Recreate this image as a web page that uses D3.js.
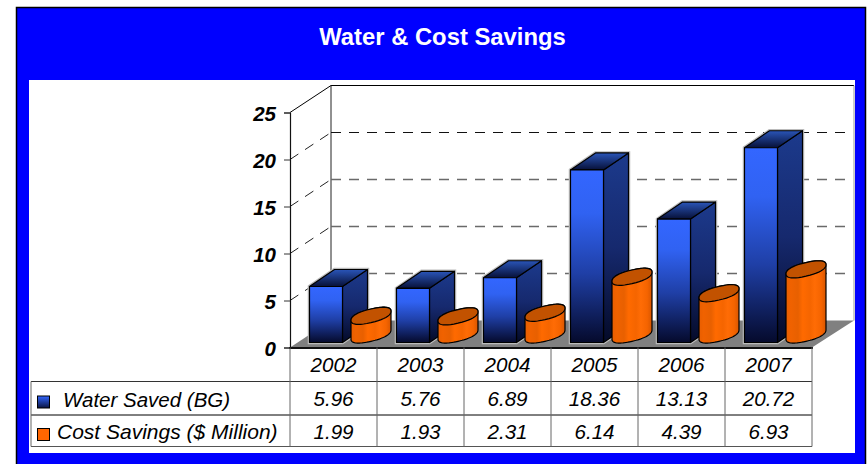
<!DOCTYPE html>
<html>
<head>
<meta charset="utf-8">
<style>
html, body { margin: 0; padding: 0; background: #fff; overflow: hidden; }
svg { display: block; }
text { font-family: "Liberation Sans", Arial, sans-serif; fill: #000; }
</style>
</head>
<body>
<div id="chart"></div>
<script src="https://cdn.jsdelivr.net/npm/d3@7"></script>
<script>
// values
var years = ["2002", "2003", "2004", "2005", "2006", "2007"];
var water_saved = [5.96, 5.76, 6.89, 18.36, 13.13, 20.72];
var cost_savings = [1.99, 1.93, 2.31, 6.14, 4.39, 6.93];
var y_ticks = [0, 5, 10, 15, 20, 25];
var water_label = "Water Saved (BG)";
var cost_label = "Cost Savings ($ Million)";
var title = "Water & Cost Savings";

var width = 867,
	height = 464,
	DEPTH_X = 41, // how far the back wall is pushed from the front axis
	DEPTH_Y = 27,
	BAR_INSET = 19.5,
	BAR_WIDTH = 33,
	BAR_DEPTH_X = 25,
	BAR_DEPTH_Y = 17,
	FLOOR_GAP = 5, // bars stand a little behind the front edge of the floor
	CYL_OFFSET = 81,
	CYL_RX = 20,
	CYL_TILT = 4.6,
	CYL_RY = 6.8,
	CYL_ROUND = 0.85; // below 1 squares the ellipse off a little, the ends look rounder

var x = d3.scaleBand().domain(years).range([290, 812]);
var y = d3.scaleLinear().domain([0, 25]).range([347.5, 112.5]);

var svg = d3.select("#chart").append("svg")
	.attr("width", width)
	.attr("height", height);

var defs = svg.append("defs");

var gradient = function(id, vertical, stops) {
	defs.append("linearGradient")
		.attr("id", id)
		.attr("x1", 0).attr("y1", 0)
		.attr("x2", vertical ? 0 : 1).attr("y2", vertical ? 1 : 0)
		.selectAll("stop")
		.data(stops)
		.enter()
		.append("stop")
		.attr("offset", function(d) { return d[0]; })
		.attr("stop-color", function(d) { return d[1]; });
};

gradient("bar_front", true, [[0, "#3366ff"], [0.25, "#3062f2"], [0.6, "#1f3fa6"], [1, "#050a2c"]]);
gradient("bar_side", true, [[0, "#1c3a8c"], [0.5, "#16296e"], [1, "#040a28"]]);
gradient("bar_top", true, [[0, "#2a55b8"], [1, "#071038"]]);
gradient("swatch_blue", true, [[0, "#3366ff"], [1, "#0a1440"]]);
gradient("cyl_side", false, [[0, "#e85e00"], [0.12, "#f06200"], [0.3, "#e86000"], [0.42, "#ff6a00"], [0.6, "#f56500"], [0.72, "#ff6c05"], [0.88, "#f56400"], [1, "#d85600"]]);

// frame
svg.append("rect")
	.attr("x", 16.5).attr("y", 7.5)
	.attr("width", 849).attr("height", 470)
	.style("fill", "#0000ff")
	.style("stroke", "#000")
	.style("stroke-width", 1.5);

svg.append("rect")
	.attr("x", 29).attr("y", 80)
	.attr("width", 826).attr("height", 373)
	.style("fill", "#fff");

svg.append("text")
	.attr("x", 442.5).attr("y", 45)
	.attr("text-anchor", "middle")
	.style("font-size", "23.8px")
	.style("font-weight", "bold")
	.style("fill", "#fff")
	.text(title);

var x0 = x.range()[0], x1 = x.range()[1];
var y0 = y(0), yTop = y(25);

// floor
svg.append("polygon")
	.attr("points", [[x0, y0], [x0 + DEPTH_X, y0 - DEPTH_Y], [x1 + DEPTH_X + 1, y0 - DEPTH_Y], [x1, y0]].join(" "))
	.style("fill", "#808080");

// walls
var walls = svg.append("g").style("fill", "none");

walls.append("path")
	.attr("d", d3.line()([[x0, yTop], [x0 + DEPTH_X, yTop - DEPTH_Y], [x1 + DEPTH_X + 1, yTop - DEPTH_Y]]))
	.style("stroke", "#000")
	.style("stroke-width", 1);

walls.append("line")
	.attr("x1", x0 + DEPTH_X).attr("x2", x0 + DEPTH_X)
	.attr("y1", yTop - DEPTH_Y).attr("y2", y0 - DEPTH_Y)
	.style("stroke", "#222");

walls.append("line")
	.attr("x1", x1 + DEPTH_X + 1).attr("x2", x1 + DEPTH_X + 1)
	.attr("y1", yTop - DEPTH_Y).attr("y2", y0 - DEPTH_Y)
	.style("stroke", "#999");

// dashed grid, along the side wall then along the back wall
var grid = svg.append("g").selectAll("g")
	.data(y_ticks.slice(1, 5))
	.enter()
	.append("g")
	.style("fill", "none")
	.style("stroke-dasharray", "10,8");

grid.append("line")
	.attr("x1", x0)
	.attr("y1", function(d) { return y(d); })
	.attr("x2", x0 + DEPTH_X)
	.attr("y2", function(d) { return y(d) - DEPTH_Y; })
	.style("stroke", "#222");

grid.append("line")
	.attr("x1", x0 + DEPTH_X)
	.attr("y1", function(d) { return y(d) - DEPTH_Y; })
	.attr("x2", 846)
	.attr("y2", function(d) { return y(d) - DEPTH_Y; })
	.style("stroke", function(d) { return d === 20 ? "#111" : "#6a6a6a"; })
	.style("stroke-width", function(d) { return d === 20 ? 1 : 1.5; });

// y axis
var axis = svg.append("g")
	.attr("transform", "translate(" + x0 + ",0)")
	.call(d3.axisLeft(y).tickValues(y_ticks).tickSize(6).tickPadding(8));

axis.select(".domain").style("stroke", "#111").attr("stroke-width", 1.2);
axis.selectAll(".tick line").style("stroke", "#333");
axis.selectAll(".tick text")
	.attr("dy", "0.37em")
	.style("font-family", '"Liberation Sans", Arial, sans-serif')
	.style("font-size", "20.5px")
	.style("font-weight", "bold")
	.style("font-style", "italic");

var soft_pow = function(v) {
	return (v < 0 ? -1 : 1) * Math.pow(Math.abs(v), CYL_ROUND);
};

// points along one tilted ellipse, between two angles
var ellipse_points = function(cx, cy, from, to) {
	var pts = [];
	for (var i = 0; i <= 40; i++) {
		var t = from + (to - from) * i / 40;
		var c = soft_pow(Math.cos(t)), s = soft_pow(Math.sin(t));
		pts.push([cx + CYL_RX * c, cy - CYL_TILT * c + CYL_RY * s]);
	}
	return pts;
};

var bars = svg.append("g").selectAll("g")
	.data(years)
	.enter()
	.append("g");

var bar_box = function(i) {
	var left = x(years[i]) + BAR_INSET;
	var bottom = y0 - FLOOR_GAP;
	var top = bottom - (y(0) - y(water_saved[i]));
	return { left: left, right: left + BAR_WIDTH, top: top, bottom: bottom };
};

// faint halo round each bar
bars.append("polygon")
	.attr("points", function(d, i) {
		var b = bar_box(i);
		return [[b.left, b.bottom], [b.left, b.top], [b.left + BAR_DEPTH_X, b.top - BAR_DEPTH_Y],
			[b.right + BAR_DEPTH_X, b.top - BAR_DEPTH_Y], [b.right + BAR_DEPTH_X, b.bottom - BAR_DEPTH_Y], [b.right, b.bottom]].join(" ");
	})
	.style("fill", "none")
	.style("stroke", "#bbb")
	.style("stroke-width", 3.5);

var bar_faces = [
	{ fill: "url(#bar_side)", pts: function(b) { return [[b.right, b.top], [b.right + BAR_DEPTH_X, b.top - BAR_DEPTH_Y], [b.right + BAR_DEPTH_X, b.bottom - BAR_DEPTH_Y], [b.right, b.bottom]]; } },
	{ fill: "url(#bar_top)", pts: function(b) { return [[b.left, b.top], [b.left + BAR_DEPTH_X, b.top - BAR_DEPTH_Y], [b.right + BAR_DEPTH_X, b.top - BAR_DEPTH_Y], [b.right, b.top]]; } },
	{ fill: "url(#bar_front)", pts: function(b) { return [[b.left, b.top], [b.right, b.top], [b.right, b.bottom], [b.left, b.bottom]]; } }
];

bar_faces.forEach(function(face) {
	bars.append("polygon")
		.attr("points", function(d, i) { return face.pts(bar_box(i)).join(" "); })
		.style("fill", face.fill)
		.style("stroke", "#000")
		.style("stroke-width", 1.2)
		.style("stroke-linejoin", "round");
});

// cylinders
var cyl_bottom = y0 - FLOOR_GAP - 8;

bars.append("path")
	.attr("d", function(d, i) {
		var cx = x(d) + CYL_OFFSET;
		var top = cyl_bottom - (y(0) - y(cost_savings[i]));
		// over the top ellipse's back edge, then under the bottom ellipse's front edge
		var pts = ellipse_points(cx, top, Math.PI, 2 * Math.PI)
			.concat(ellipse_points(cx, cyl_bottom, 0, Math.PI));
		return d3.line()(pts) + "Z";
	})
	.style("fill", "url(#cyl_side)")
	.style("stroke", "#000")
	.style("stroke-width", 1.2);

bars.append("path")
	.attr("d", function(d, i) {
		var cx = x(d) + CYL_OFFSET;
		var top = cyl_bottom - (y(0) - y(cost_savings[i]));
		return d3.line()(ellipse_points(cx, top, 0, 2 * Math.PI)) + "Z";
	})
	.style("fill", "#c25200")
	.style("stroke", "#000")
	.style("stroke-width", 1.2);

// floor front edge
svg.append("line")
	.attr("x1", x0 - 1).attr("x2", x1 + 1)
	.attr("y1", y0 + 0.5).attr("y2", y0 + 0.5)
	.style("stroke", "#111")
	.style("stroke-width", 2);

// data table
var TABLE_LEFT = 31,
	ROW_HEAD = 381.5,
	ROW_MID = 415,
	ROW_END = 446.5;

var table = svg.append("g");

var hline = function(y_pos, from, color) {
	table.append("line")
		.attr("x1", from).attr("x2", x1)
		.attr("y1", y_pos).attr("y2", y_pos)
		.style("stroke", color);
};

hline(ROW_HEAD, TABLE_LEFT, "#333");
hline(ROW_MID, TABLE_LEFT, "#000");
hline(ROW_END, TABLE_LEFT, "#555");

table.selectAll(".col")
	.data(x.domain().concat("end"))
	.enter()
	.append("line")
	.attr("x1", function(d) { return d === "end" ? x1 : x(d); })
	.attr("x2", function(d) { return d === "end" ? x1 : x(d); })
	.attr("y1", y0)
	.attr("y2", ROW_END)
	.style("stroke", "#666");

table.append("line")
	.attr("x1", TABLE_LEFT).attr("x2", TABLE_LEFT)
	.attr("y1", ROW_HEAD).attr("y2", ROW_END)
	.style("stroke", "#666");

var cell_font = "20.6px";

var rows = [
	{ labels: years, base: 371.5 },
	{ labels: water_saved.map(function(d) { return d.toFixed(2); }), base: 406 },
	{ labels: cost_savings.map(function(d) { return d.toFixed(2); }), base: 438.5 }
];

rows.forEach(function(row) {
	table.selectAll(null)
		.data(row.labels)
		.enter()
		.append("text")
		.attr("x", function(d, i) { return x(years[i]) + x.bandwidth() / 2; })
		.attr("y", row.base)
		.attr("text-anchor", "middle")
		.style("font-size", cell_font)
		.style("font-style", "italic")
		.text(function(d) { return d; });
});

// legend keys
table.append("rect")
	.attr("x", 37.5).attr("y", 396)
	.attr("width", 12).attr("height", 12)
	.style("fill", "url(#swatch_blue)")
	.style("stroke", "#000");

table.append("rect")
	.attr("x", 37.5).attr("y", 428.5)
	.attr("width", 12).attr("height", 12)
	.style("fill", "#ff6600")
	.style("stroke", "#000");

table.append("text")
	.attr("x", 63).attr("y", 406.5)
	.style("font-size", "20.5px")
	.style("font-style", "italic")
	.text(water_label);

table.append("text")
	.attr("x", 57).attr("y", 439)
	.style("font-size", "21px")
	.style("font-style", "italic")
	.text(cost_label);
</script>
</body>
</html>
